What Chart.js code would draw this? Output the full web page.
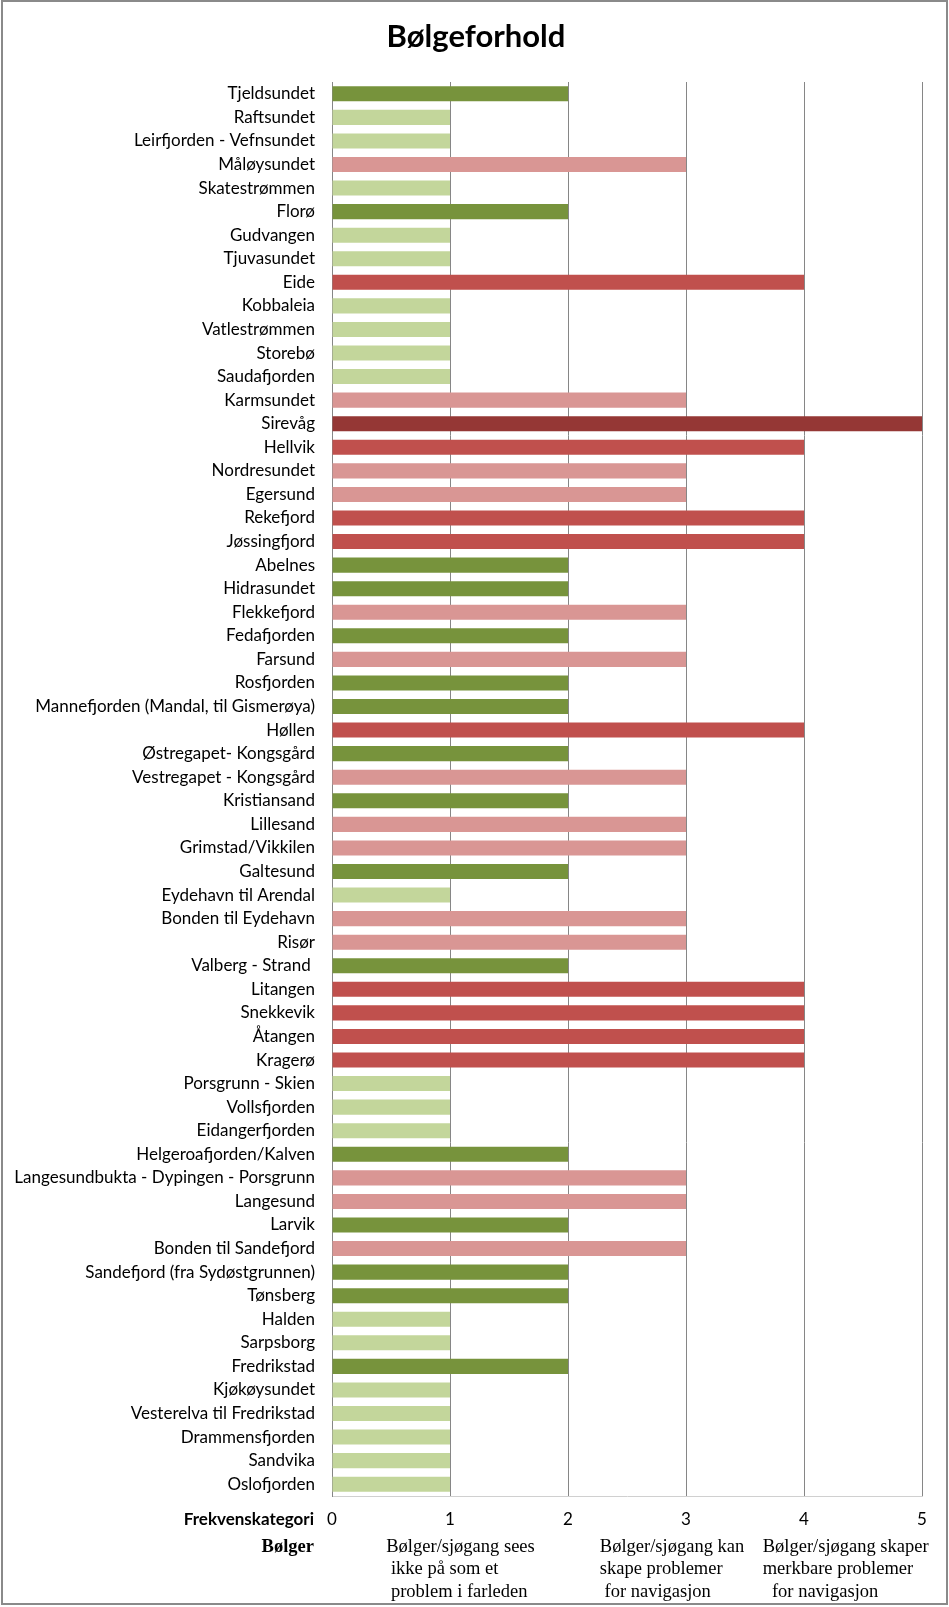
<!DOCTYPE html>
<html>
<head>
<meta charset="utf-8">
<script src="https://cdn.jsdelivr.net/npm/chart.js@4.4.1/dist/chart.umd.min.js"></script>
<style>
  html, body { margin: 0; padding: 0; background: #fff; }
  #wrap { position: absolute; left: 0; top: 0; width: 949px; height: 1607px; }
  #frame { position: absolute; left: 1px; top: 0px; width: 947px; height: 1605px; box-sizing: border-box; border: 2px solid #8a8a8a; pointer-events: none; }
</style>
</head>
<body>
<div id="wrap"><canvas id="c"></canvas></div>
<div id="frame"></div>
<script>
const chartTitle = "Bølgeforhold";
const categories = [
  "Tjeldsundet", "Raftsundet", "Leirfjorden - Vefnsundet", "Måløysundet", "Skatestrømmen",
  "Florø", "Gudvangen", "Tjuvasundet", "Eide", "Kobbaleia",
  "Vatlestrømmen", "Storebø", "Saudafjorden", "Karmsundet", "Sirevåg",
  "Hellvik", "Nordresundet", "Egersund", "Rekefjord", "Jøssingfjord",
  "Abelnes", "Hidrasundet", "Flekkefjord", "Fedafjorden", "Farsund",
  "Rosfjorden", "Mannefjorden (Mandal, til Gismerøya)", "Høllen", "Østregapet- Kongsgård", "Vestregapet - Kongsgård",
  "Kristiansand", "Lillesand", "Grimstad/Vikkilen", "Galtesund", "Eydehavn til Arendal",
  "Bonden til Eydehavn", "Risør", "Valberg - Strand ", "Litangen", "Snekkevik",
  "Åtangen", "Kragerø", "Porsgrunn - Skien", "Vollsfjorden", "Eidangerfjorden",
  "Helgeroafjorden/Kalven", "Langesundbukta - Dypingen - Porsgrunn", "Langesund", "Larvik", "Bonden til Sandefjord",
  "Sandefjord (fra Sydøstgrunnen)", "Tønsberg", "Halden", "Sarpsborg", "Fredrikstad",
  "Kjøkøysundet", "Vesterelva til Fredrikstad", "Drammensfjorden", "Sandvika", "Oslofjorden"
];
const frequencyValues = [
  2, 1, 1, 3, 1,
  2, 1, 1, 4, 1,
  1, 1, 1, 3, 5,
  4, 3, 3, 4, 4,
  2, 2, 3, 2, 3,
  2, 2, 4, 2, 3,
  2, 3, 3, 2, 1,
  3, 3, 2, 4, 4,
  4, 4, 1, 1, 1,
  2, 3, 3, 2, 3,
  2, 2, 1, 1, 2,
  1, 1, 1, 1, 1
];
const tickValues = [0, 1, 2, 3, 4, 5];
const axisCaption = "Frekvenskategori";
const rowCaption = "Bølger";
const descriptionAnchors = [0.46, 2.27, 3.65];
const descriptionLines = [
  ["Bølger/sjøgang sees", " ikke på som et", " problem i farleden"],
  ["Bølger/sjøgang kan", "skape problemer", " for navigasjon"],
  ["Bølger/sjøgang skaper", "merkbare problemer", "  for navigasjon"]
];
// colour for each frequency level (index = level)
const levelColors = ["#ffffff", "#C3D69B", "#77933C", "#D99694", "#C0504D", "#953735"];

const labelFont = "Lato, 'Open Sans', sans-serif";
const serifFont = "'Liberation Serif', 'DejaVu Serif', serif";

const PLOT_LEFT = 332, PLOT_RIGHT = 922, PLOT_TOP = 82, PLOT_BOTTOM = 1496, W = 949, H = 1607;

const extraText = {
  id: 'extraText',
  afterDraw(chart) {
    const ctx = chart.ctx;
    const xs = chart.scales.x;
    ctx.save();
    ctx.fillStyle = '#000';
    ctx.textBaseline = 'middle';
    ctx.textAlign = 'center';
    ctx.font = "bold 31px " + labelFont;
    ctx.fillText(chartTitle, 476, 37);
    ctx.textAlign = 'right';
    ctx.font = "bold 17px " + labelFont;
    ctx.fillText(axisCaption, 314, 1520);
    ctx.font = "bold 18.5px " + serifFont;
    ctx.fillText(rowCaption, 314, 1547);
    ctx.textAlign = 'left';
    ctx.font = "18.5px " + serifFont;
    descriptionAnchors.forEach((v, k) => {
      const x = xs.getPixelForValue(v);
      descriptionLines[k].forEach((ln, i) => {
        ctx.fillText(ln, x, 1547 + i * 22.5);
      });
    });
    ctx.restore();
  }
};

new Chart(document.getElementById('c'), {
  type: 'bar',
  data: {
    labels: categories,
    datasets: [{
      data: frequencyValues,
      backgroundColor: frequencyValues.map(v => levelColors[v]),
      borderWidth: 0,
      categoryPercentage: 0.64,
      barPercentage: 1.0
    }]
  },
  options: {
    indexAxis: 'y',
    responsive: true,
    maintainAspectRatio: false,
    animation: false,
    layout: { padding: { left: 0, right: W - PLOT_RIGHT, top: PLOT_TOP, bottom: 0 } },
    plugins: {
      legend: { display: false },
      tooltip: { enabled: false },
      title: { display: false }
    },
    scales: {
      x: {
        min: 0, max: 5,
        afterBuildTicks(scale) { scale.ticks = tickValues.map(v => ({ value: v })); },
        afterFit(scale) { scale.height = H - PLOT_BOTTOM; },
        grid: { color: '#868686', lineWidth: 1, drawTicks: false },
        border: { display: true, color: '#d0d0d0' },
        ticks: { color: '#000', padding: 13.5, font: { family: labelFont, size: 17 } }
      },
      y: {
        afterFit(scale) { scale.width = PLOT_LEFT; },
        grid: { display: false, drawTicks: false },
        border: { display: true, color: '#868686' },
        ticks: { color: '#000', padding: 17, autoSkip: false, font: { family: labelFont, size: 17 } }
      }
    }
  },
  plugins: [extraText]
});
</script>
</body>
</html>
